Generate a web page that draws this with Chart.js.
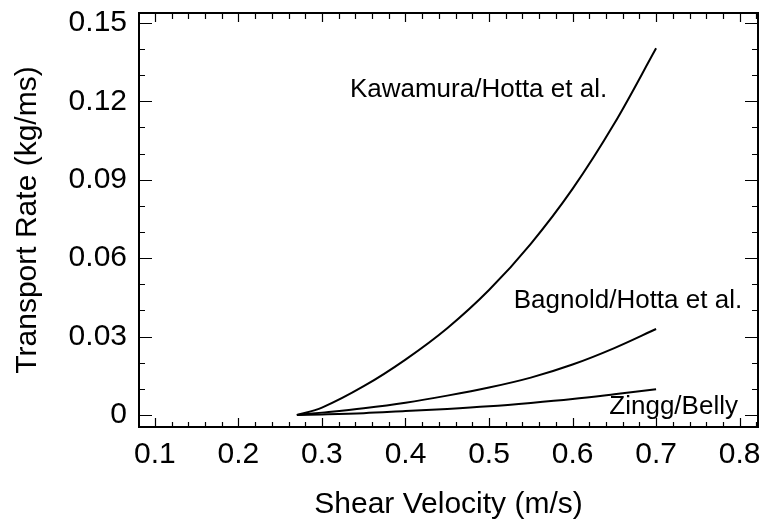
<!DOCTYPE html>
<html>
<head>
<meta charset="utf-8">
<script src="https://cdn.jsdelivr.net/npm/chart.js@4.4.0/dist/chart.umd.min.js"></script>
<style>
  html, body { margin: 0; padding: 0; background: #fff; }
  #wrap { width: 762px; height: 521px; }
</style>
</head>
<body>
<div id="wrap"><canvas id="chart"></canvas></div>
<script>
// values
const shearVelocity = [0.27, 0.30, 0.35, 0.40, 0.45, 0.50, 0.55, 0.60, 0.65, 0.70];
const kawamura = [0, 0.0028, 0.0110, 0.0212, 0.0332, 0.0478, 0.0655, 0.0865, 0.1115, 0.1403];
const bagnold = [0, 0.0009, 0.0026, 0.0047, 0.0074, 0.0105, 0.0143, 0.0193, 0.0256, 0.0329];
const zingg = [0, 0.0002, 0.0007, 0.0015, 0.0023, 0.0033, 0.0046, 0.0061, 0.0079, 0.0098];

const xTickValues = [0.1, 0.2, 0.3, 0.4, 0.5, 0.6, 0.7, 0.8];
const xTickLabels = ['0.1', '0.2', '0.3', '0.4', '0.5', '0.6', '0.7', '0.8'];
const yTickValues = [0, 0.03, 0.06, 0.09, 0.12, 0.15];
const yTickLabels = ['0', '0.03', '0.06', '0.09', '0.12', '0.15'];

const curveNames = ['Kawamura/Hotta et al.', 'Bagnold/Hotta et al.', 'Zingg/Belly'];

const FONT = "'Liberation Sans', Arial, sans-serif";

function toPoints(ys) {
  return shearVelocity.map((x, i) => ({ x, y: ys[i] }));
}

function lineSet(label, ys) {
  return {
    label,
    data: toPoints(ys),
    borderColor: '#000',
    borderWidth: 2,
    pointRadius: 0,
    tension: 0.35,
    fill: false
  };
}

// frame, inward ticks and curve labels
const framePlugin = {
  id: 'frame',
  afterDraw(chart) {
    const { ctx, chartArea: a, scales: { x, y } } = chart;
    ctx.save();
    ctx.strokeStyle = '#000';
    ctx.lineWidth = 2;
    ctx.strokeRect(a.left, a.top, a.right - a.left, a.bottom - a.top);

    ctx.lineWidth = 1.2;
    ctx.beginPath();
    // x minor/major
    for (let k = Math.ceil(x.min / 0.02); k * 0.02 <= x.max + 1e-9; k++) {
      const px = Math.round(x.getPixelForValue(k * 0.02)) + 0.5;
      const major = k % 5 === 0;
      const lb = major ? 9 : 5, lt = major ? 9 : 6;
      ctx.moveTo(px, a.bottom); ctx.lineTo(px, a.bottom - lb);
      ctx.moveTo(px, a.top); ctx.lineTo(px, a.top + lt);
    }
    // y minor/major
    for (let k = Math.ceil(y.min / 0.01); k * 0.01 <= y.max + 1e-9; k++) {
      const py = Math.round(y.getPixelForValue(k * 0.01)) + 0.5;
      const len = k % 3 === 0 ? 13 : 6;
      ctx.moveTo(a.left, py); ctx.lineTo(a.left + len, py);
      ctx.moveTo(a.right, py); ctx.lineTo(a.right - len, py);
    }
    ctx.stroke();

    ctx.fillStyle = '#000';
    ctx.font = '26px ' + FONT;
    ctx.textBaseline = 'middle';
    ctx.textAlign = 'left';
    ctx.fillText(curveNames[0], x.getPixelForValue(0.3335), y.getPixelForValue(0.1245));
    ctx.textAlign = 'right';
    ctx.fillText(curveNames[1], x.getPixelForValue(0.803), y.getPixelForValue(0.0438));
    ctx.fillText(curveNames[2], x.getPixelForValue(0.798), y.getPixelForValue(0.0033));
    ctx.restore();
  }
};

new Chart(document.getElementById('chart'), {
  type: 'line',
  data: {
    datasets: [
      lineSet(curveNames[0], kawamura),
      lineSet(curveNames[1], bagnold),
      lineSet(curveNames[2], zingg)
    ]
  },
  options: {
    responsive: true,
    maintainAspectRatio: false,
    animation: false,
    layout: { padding: { top: 13, right: 4, left: 0, bottom: 0 } },
    plugins: {
      legend: { display: false },
      tooltip: { enabled: false }
    },
    scales: {
      x: {
        type: 'linear',
        min: 0.081,
        max: 0.822,
        afterBuildTicks: s => { s.ticks = xTickValues.map(v => ({ value: v })); },
        afterFit: s => { s.height = 94; s.paddingLeft = 0; s.paddingRight = 0; },
        grid: { display: false, drawTicks: false },
        border: { display: false },
        ticks: {
          color: '#000',
          padding: 10,
          maxRotation: 0,
          autoSkip: false,
          font: { family: FONT, size: 30 },
          callback: v => xTickLabels[xTickValues.findIndex(t => Math.abs(t - v) < 1e-6)]
        },
        title: {
          display: true,
          text: 'Shear Velocity (m/s)',
          color: '#000',
          padding: { top: 0, bottom: 0 },
          font: { family: FONT, size: 30, lineHeight: 1.1 }
        }
      },
      y: {
        type: 'linear',
        min: -0.0046,
        max: 0.1538,
        afterBuildTicks: s => { s.ticks = yTickValues.map(v => ({ value: v })); },
        afterFit: s => { s.width = 139; s.paddingTop = 0; s.paddingBottom = 0; },
        grid: { display: false, drawTicks: false },
        border: { display: false },
        ticks: {
          color: '#000',
          padding: 12,
          autoSkip: false,
          font: { family: FONT, size: 30 },
          callback: v => yTickLabels[yTickValues.findIndex(t => Math.abs(t - v) < 1e-6)]
        },
        title: {
          display: true,
          text: 'Transport Rate (kg/ms)',
          color: '#000',
          padding: { top: 10, bottom: 0 },
          font: { family: FONT, size: 30, lineHeight: 1.2 }
        }
      }
    }
  },
  plugins: [framePlugin]
});
</script>
</body>
</html>
